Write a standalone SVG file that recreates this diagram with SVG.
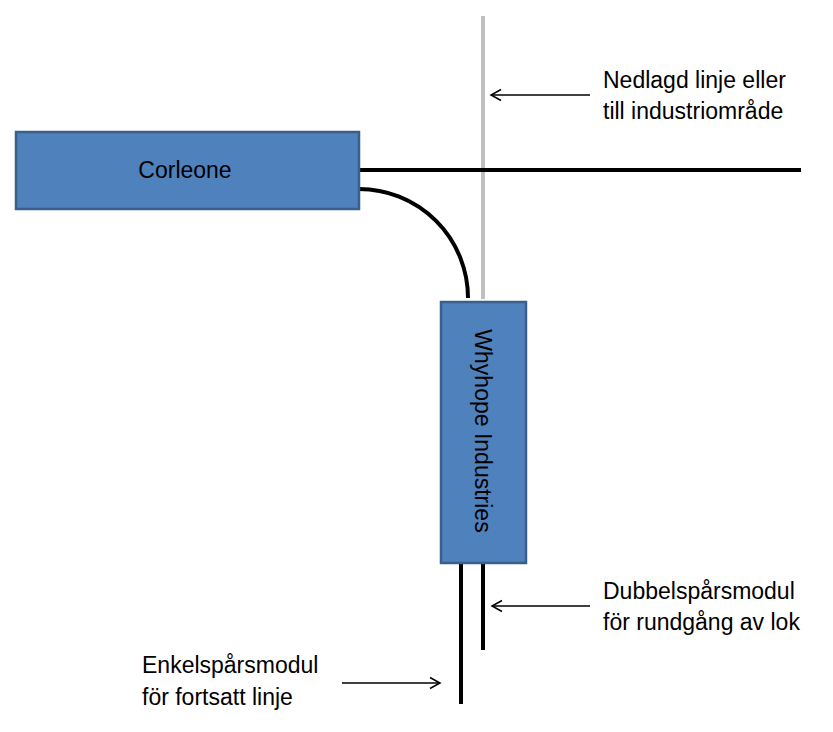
<svg xmlns="http://www.w3.org/2000/svg" width="833" height="732" viewBox="0 0 833 732">
<style>
.box{fill:#4f81bd;stroke:#3a5f8c;stroke-width:2.5}
.lbl{font-family:"Liberation Sans",Arial,sans-serif;font-size:23px;fill:#000}
.track{stroke:#000;stroke-width:4;fill:none}
.ptr{stroke:#000;stroke-width:1.5;fill:none}
</style>
<defs>
<marker id="arr" markerWidth="14" markerHeight="14" refX="12" refY="7" orient="auto" markerUnits="userSpaceOnUse">
<path d="M2,1.5 L12,7 L2,12.5" fill="none" stroke="#000" stroke-width="1.5"/>
</marker>
</defs>
<rect width="833" height="732" fill="#fff"/>
<g id="connectors">
<line x1="483" y1="16" x2="483" y2="299" stroke="#bfbfbf" stroke-width="4"/>
<line class="track" x1="359" y1="170" x2="801" y2="170"/>
<path class="track" d="M359,189 A109,109 0 0 1 468,298"/>
<line class="track" x1="461" y1="563" x2="461" y2="704"/>
<line class="track" x1="483" y1="563" x2="483" y2="650"/>
<line class="ptr" x1="590" y1="95" x2="491" y2="95" marker-end="url(#arr)"/>
<line class="ptr" x1="590" y1="606" x2="492" y2="606" marker-end="url(#arr)"/>
<line class="ptr" x1="342" y1="683" x2="440" y2="683" marker-end="url(#arr)"/>
</g>
<g id="corleone">
<rect class="box" x="16" y="132" width="343" height="77"/>
<text class="lbl" x="185" y="178" text-anchor="middle">Corleone</text>
</g>
<g id="whyhope">
<rect class="box" x="441" y="302" width="85" height="261"/>
<text class="lbl" x="0" y="0" text-anchor="middle" transform="translate(475,431) rotate(90)">Whyhope Industries</text>
</g>
<g id="label-nedlagd">
<text class="lbl" x="603" y="88">Nedlagd linje eller</text>
<text class="lbl" x="603" y="119">till industriområde</text>
</g>
<g id="label-dubbel">
<text class="lbl" x="603" y="599">Dubbelspårsmodul</text>
<text class="lbl" x="603" y="630">för rundgång av lok</text>
</g>
<g id="label-enkel">
<text class="lbl" x="142" y="673">Enkelspårsmodul</text>
<text class="lbl" x="142" y="705">för fortsatt linje</text>
</g>
</svg>
